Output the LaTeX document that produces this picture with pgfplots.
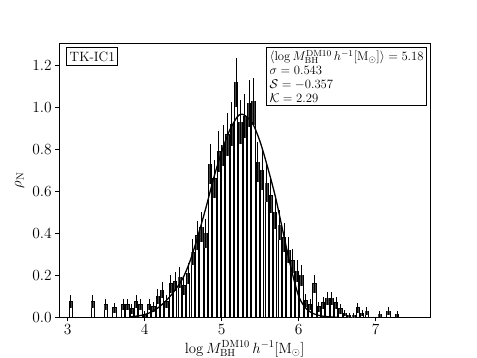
\RequirePackage{fix-cm}
\documentclass[border=0pt]{standalone}
\usepackage{pgfplots}
\pgfplotsset{compat=1.18}
\usepackage{pgfplotstable}

\pgfplotstableread{
x y e
3.0400 0.075 0.030
3.3225 0.075 0.030
3.4920 0.060 0.027
3.6050 0.045 0.023
3.7180 0.060 0.027
3.7745 0.060 0.027
3.8310 0.040 0.022
3.8875 0.075 0.030
3.9440 0.060 0.027
4.0005 0.015 0.013
4.0570 0.060 0.027
4.1135 0.050 0.025
4.1700 0.100 0.035
4.2265 0.130 0.040
4.2830 0.075 0.030
4.3395 0.160 0.044
4.3960 0.170 0.045
4.4525 0.190 0.048
4.5090 0.150 0.042
4.5655 0.210 0.050
4.6220 0.310 0.061
4.6785 0.390 0.068
4.7350 0.430 0.072
4.7915 0.400 0.069
4.8480 0.730 0.094
4.9045 0.660 0.089
4.9610 0.790 0.097
5.0175 0.820 0.099
5.0740 0.870 0.102
5.1305 0.920 0.105
5.1870 1.120 0.116
5.2435 0.930 0.106
5.3000 0.960 0.107
5.3565 1.020 0.111
5.4130 1.030 0.111
5.4695 0.740 0.094
5.5260 0.700 0.092
5.5825 0.640 0.088
5.6390 0.580 0.083
5.6955 0.500 0.077
5.7520 0.440 0.073
5.8085 0.380 0.068
5.8650 0.320 0.062
5.9215 0.270 0.057
5.9780 0.220 0.051
6.0345 0.200 0.049
6.0910 0.080 0.031
6.1475 0.060 0.027
6.2040 0.160 0.044
6.2605 0.050 0.025
6.3170 0.070 0.029
6.3735 0.090 0.033
6.4300 0.090 0.033
6.4865 0.070 0.029
6.5430 0.040 0.022
6.5995 0.020 0.016
6.6560 0.010 0.011
6.7125 0.010 0.011
6.7690 0.045 0.023
6.8255 0.020 0.016
6.8820 0.030 0.019
7.0515 0.015 0.013
7.1645 0.030 0.019
7.2775 0.015 0.013
}\histdata

\pgfplotstableread{
x y
3.80 0.002
3.90 0.006
4.00 0.013
4.10 0.028
4.20 0.053
4.30 0.088
4.40 0.133
4.50 0.190
4.60 0.280
4.70 0.400
4.80 0.530
4.90 0.670
5.00 0.790
5.10 0.890
5.20 0.955
5.25 0.968
5.30 0.963
5.40 0.925
5.50 0.835
5.60 0.710
5.70 0.570
5.80 0.400
5.90 0.235
6.00 0.100
6.10 0.040
6.20 0.016
6.30 0.006
6.40 0.002
6.50 0.000
}\curvedata

\begin{document}
\begin{tikzpicture}
\useasboundingbox (-59.3pt,-40.7pt) rectangle (417.7pt,317.3pt);
\begin{axis}[
  at={(0,0)}, anchor=south west, scale only axis,
  width=370.7pt, height=274.3pt,
  xmin=2.89, xmax=7.705, ymin=0, ymax=1.308,
  axis line style={line width=0.9pt},
  tick align=outside, tick pos=left,
  major tick length=4pt,
  tick style={black, line width=0.8pt},
  xtick={3,4,5,6,7},
  ytick={0,0.2,0.4,0.6,0.8,1.0,1.2},
  yticklabel style={/pgf/number format/.cd, fixed, fixed zerofill, precision=1},
  tick label style={font=\fontsize{15.5}{17}\selectfont},
  label style={font=\fontsize{14.8}{17}\selectfont},
  xlabel={$\log M_{\rm BH}^{\rm DM10}\,h^{-1}[\mathrm{M}_\odot]$},
  ylabel={$\rho_{\rm N}$},
  xlabel style={at={(axis description cs:0.5,-0.072)}, anchor=north},
  ylabel style={at={(axis description cs:-0.085,0.5)}, anchor=south},
]
\addplot[ybar, bar width=0.042, fill=white, draw=black, line width=0.9pt] table[x=x,y=y] {\histdata};
\addplot[draw=none, mark=none, error bars/.cd, y dir=minus, y explicit, error mark=none,
  error bar style={draw=black!72, line width=2.4pt}] table[x=x, y=y, y error=e] {\histdata};
\addplot[draw=none, mark=none, error bars/.cd, y dir=both, y explicit, error mark=none,
  error bar style={draw=black, line width=0.9pt}] table[x=x, y=y, y error=e] {\histdata};
\addplot[black, line width=1.3pt, smooth, tension=0.5] table[x=x,y=y] {\curvedata};

\node[draw=black, line width=0.8pt, fill=white, anchor=north west, inner xsep=3pt, inner ysep=4pt,
  text height=9.5pt, text depth=0.5pt, font=\fontsize{13.5}{15}\selectfont]
  at (axis description cs:0.019,0.985) {TK-IC1};
\node[draw=black, line width=0.8pt, fill=white, anchor=north east, align=left, inner xsep=3pt, inner ysep=2.5pt,
  font=\fontsize{12.7}{14}\selectfont]
  at (axis description cs:0.992,0.985)
  {$\langle\log M_{\rm BH}^{\rm DM10}\,h^{-1}[\mathrm{M}_\odot]\rangle = 5.18$\\
   $\sigma = 0.543$\\
   $\mathcal{S} = -0.357$\\
   $\mathcal{K} = 2.29$};
\end{axis}
\end{tikzpicture}
\end{document}
